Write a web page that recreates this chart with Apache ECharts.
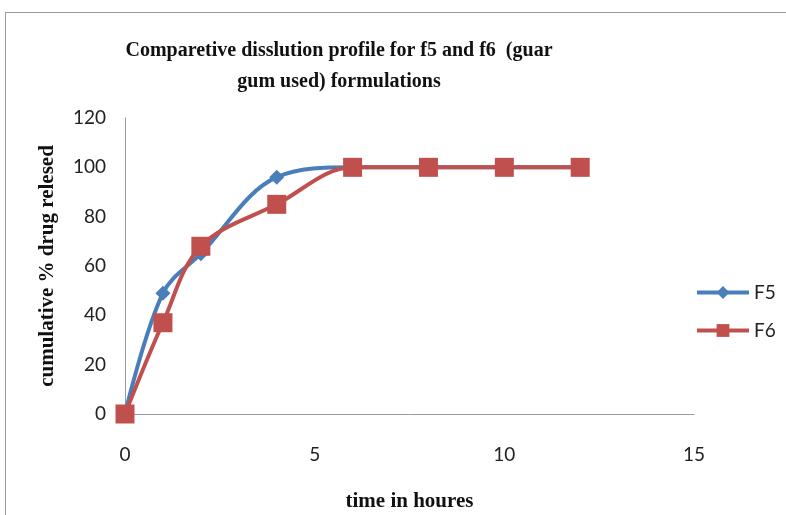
<!DOCTYPE html>
<html><head><meta charset="utf-8">
<script src="https://cdn.jsdelivr.net/npm/echarts@6/dist/echarts.min.js"></script>
<style>html,body{margin:0;padding:0;background:#fff}#c{width:786px;height:515px}
#frame{position:absolute;left:5px;top:12px;width:800px;height:520px;border:1px solid #9a9a9a;pointer-events:none}</style>
</head><body><div id="c"></div><div id="frame"></div>
<script>
const hours = [0, 1, 2, 4, 6, 8, 10, 12];
const f5 = [0, 49, 65, 96, 100, 100, 100, 100];
const f6 = [0, 37, 68, 85, 100, 100, 100, 100];
const xTicks = [0, 5, 10, 15];
const yTicks = [0, 20, 40, 60, 80, 100, 120];

const chart = echarts.init(document.getElementById('c'));
const axisFont = {fontFamily: 'Lato', fontSize: 19, color: '#222'};
chart.setOption({
  animation: false,
  title: {
    text: 'Comparetive disslution profile for f5 and f6  (guar\ngum used) formulations',
    left: 334, top: 30, textAlign: 'center',
    textStyle: {fontFamily: 'Liberation Serif', fontWeight: 'bold', fontSize: 20, lineHeight: 31, color: '#111'}
  },
  legend: {
    orient: 'vertical', left: 690, top: 278, itemWidth: 52, itemHeight: 16, itemGap: 19,
    lineStyle: {width: 4},
    textStyle: {fontFamily: 'Lato', fontSize: 19, color: '#222'},
    data: ['F5', 'F6']
  },
  grid: {left: 125, right: 92, top: 118, bottom: 101, outerBoundsMode: 'none', containLabel: false},
  xAxis: {
    type: 'value', min: 0, max: 15, interval: 5,
    name: 'time in houres', nameLocation: 'middle', nameGap: 77,
    nameTextStyle: {fontFamily: 'Liberation Serif', fontWeight: 'bold', fontSize: 21, color: '#111'},
    axisLine: {lineStyle: {color: '#9a9a9a'}}, axisTick: {show: false},
    splitLine: {show: false},
    axisLabel: Object.assign({margin: 31, formatter: v => xTicks.includes(v) ? String(v) : ''}, axisFont)
  },
  yAxis: {
    type: 'value', min: 0, max: 120, interval: 20,
    name: 'cumulative % drug relesed', nameLocation: 'middle', nameGap: 67, nameRotate: 90,
    nameTextStyle: {fontFamily: 'Liberation Serif', fontWeight: 'bold', fontSize: 21, color: '#111'},
    axisLine: {show: true, lineStyle: {color: '#9a9a9a'}}, axisTick: {show: false},
    splitLine: {show: false},
    axisLabel: Object.assign({margin: 19, formatter: v => yTicks.includes(v) ? String(v) : ''}, axisFont)
  },
  series: [
    {name: 'F5', type: 'line', smooth: 0.35, data: hours.map((h, i) => [h, f5[i]]),
     symbol: 'diamond', symbolSize: 15, color: '#4A7EBB',
     lineStyle: {width: 4, color: '#4A7EBB'}, itemStyle: {color: '#4A7EBB'}},
    {name: 'F6', type: 'line', smooth: 0.35, data: hours.map((h, i) => [h, f6[i]]),
     symbol: 'rect', symbolSize: 19, color: '#C0504D',
     lineStyle: {width: 4, color: '#C0504D'}, itemStyle: {color: '#C0504D'}}
  ]
});
</script></body></html>
